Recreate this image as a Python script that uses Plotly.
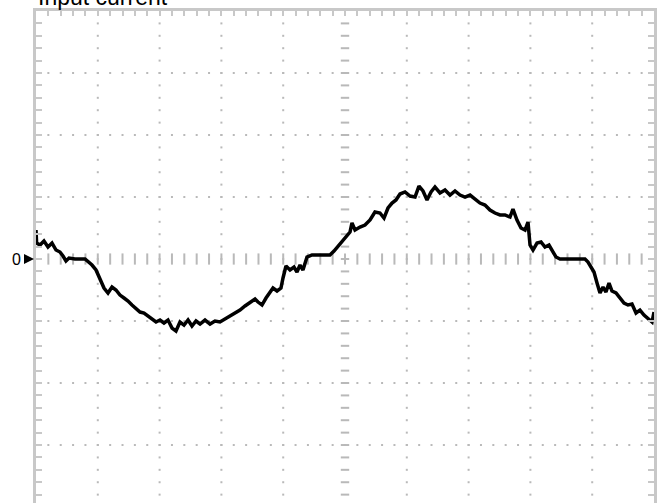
import plotly.graph_objects as go
import numpy as np

# Oscilloscope trace (units: divisions)
time_div = [0.000, 0.010, 0.065, 0.129, 0.194, 0.259, 0.324, 0.388, 0.437, 0.485, 0.534, 0.631, 0.793,
            0.858, 0.906, 0.971, 1.036, 1.100, 1.165, 1.230, 1.294, 1.359, 1.424, 1.489, 1.553, 1.618,
            1.683, 1.748, 1.812, 1.877, 1.942, 2.006, 2.071, 2.136, 2.201, 2.265, 2.330, 2.395, 2.460,
            2.524, 2.589, 2.654, 2.735, 2.816, 2.896, 2.977, 3.058, 3.139, 3.220, 3.301, 3.382, 3.463,
            3.544, 3.592, 3.657, 3.722, 3.786, 3.835, 3.900, 3.964, 3.997, 4.045, 4.110, 4.175, 4.223,
            4.272, 4.320, 4.385, 4.466, 4.757, 4.822, 4.887, 4.951, 5.016, 5.081, 5.113, 5.162, 5.243,
            5.324, 5.405, 5.485, 5.566, 5.631, 5.696, 5.761, 5.825, 5.890, 5.971, 6.052, 6.133, 6.197,
            6.262, 6.327, 6.392, 6.456, 6.537, 6.618, 6.699, 6.780, 6.861, 6.942, 7.023, 7.104, 7.184,
            7.265, 7.346, 7.427, 7.508, 7.589, 7.670, 7.718, 7.783, 7.848, 7.913, 7.961, 7.994, 8.042,
            8.107, 8.172, 8.236, 8.301, 8.366, 8.414, 8.479, 8.883, 8.932, 8.981, 9.029, 9.078, 9.126,
            9.175, 9.223, 9.272, 9.320, 9.385, 9.450, 9.515, 9.579, 9.644, 9.709, 9.773, 9.838, 9.903,
            9.968, 10.000]
current_div = [0.468, 0.258, 0.226, 0.290, 0.194, 0.258, 0.145, 0.113, 0.048, -0.032, 0.016, 0.000, 0.000,
               -0.048, -0.097, -0.177, -0.339, -0.468, -0.548, -0.452, -0.500, -0.581, -0.629, -0.677, -0.742, -0.790,
               -0.855, -0.871, -0.919, -0.952, -1.016, -0.984, -1.032, -0.984, -1.113, -1.161, -1.016, -1.065, -0.984,
               -1.081, -1.000, -1.048, -0.984, -1.048, -1.000, -1.016, -0.968, -0.935, -0.871, -0.823, -0.758, -0.694,
               -0.645, -0.694, -0.742, -0.629, -0.532, -0.468, -0.516, -0.468, -0.306, -0.113, -0.177, -0.129, -0.210,
               -0.097, -0.177, 0.032, 0.065, 0.065, 0.129, 0.210, 0.274, 0.355, 0.435, 0.581, 0.468, 0.516,
               0.548, 0.629, 0.758, 0.742, 0.661, 0.823, 0.903, 0.952, 1.048, 1.081, 1.016, 1.000, 1.177,
               1.097, 0.952, 1.081, 1.161, 1.065, 1.113, 1.032, 1.097, 1.032, 1.000, 1.032, 0.968, 0.903,
               0.871, 0.790, 0.742, 0.710, 0.710, 0.677, 0.806, 0.629, 0.500, 0.468, 0.597, 0.226, 0.145,
               0.258, 0.274, 0.194, 0.226, 0.097, 0.032, 0.000, 0.000, -0.048, -0.129, -0.210, -0.387, -0.548,
               -0.452, -0.532, -0.387, -0.516, -0.548, -0.629, -0.710, -0.742, -0.726, -0.871, -0.823, -0.903, -0.968,
               -1.016, -0.855]

title_text = "Input current"
zero_label = "0"

X_DIVS = 10
Y_TOP = 4
Y_BOTTOM = -3.935
GRID_COLOR = "#b9b9b9"
BORDER_COLOR = "#c8c8c8"

fig = go.Figure()

# dotted graticule (dots every 1/5 division)
gx, gy = [], []
for xv in range(1, X_DIVS):
    if xv == 5:
        continue
    for k in range(-19, 20):
        gx.append(xv)
        gy.append(k * 0.2)
for yv in range(-3, 4):
    if yv == 0:
        continue
    for k in range(1, 50):
        gx.append(k * 0.2)
        gy.append(yv)
fig.add_trace(go.Scatter(x=gx, y=gy, mode="markers",
                         marker=dict(symbol="square", size=2, color=GRID_COLOR, line=dict(width=0)),
                         hoverinfo="skip", showlegend=False))

# center cross tick marks
cx = [k * 0.2 for k in range(1, 50)]
fig.add_trace(go.Scatter(x=cx, y=[0] * len(cx), mode="markers",
                         marker=dict(symbol="line-ns", size=8, color=GRID_COLOR,
                                     line=dict(width=2, color=GRID_COLOR)),
                         hoverinfo="skip", showlegend=False))
cy = [k * 0.2 for k in range(-19, 20)]
fig.add_trace(go.Scatter(x=[5] * len(cy), y=cy, mode="markers",
                         marker=dict(symbol="line-ew", size=6, color=GRID_COLOR,
                                     line=dict(width=2, color=GRID_COLOR)),
                         hoverinfo="skip", showlegend=False))

# the waveform
fig.add_trace(go.Scatter(x=time_div, y=current_div, mode="lines",
                         line=dict(color="black", width=3.5),
                         hoverinfo="skip", showlegend=False))

fig.add_annotation(text=zero_label, xref="paper", x=0, xshift=-26, yref="y", y=0,
                   showarrow=False, font=dict(family="Liberation Sans", size=16, color="black"))
# zero-level pointer arrow
fig.add_annotation(text="", xref="paper", x=0, xshift=-2, yref="y", y=0,
                   showarrow=True, ax=-9, ay=0, arrowhead=2, arrowsize=1, arrowwidth=2,
                   arrowcolor="black")
fig.add_annotation(text=title_text, xref="paper", x=0, xanchor="left", yref="paper", y=1,
                   yanchor="bottom", yshift=-1, showarrow=False,
                   font=dict(family="Liberation Sans", size=23, color="black"))

fig.update_layout(
    width=671, height=503,
    margin=dict(l=36, r=17, t=11, b=0, pad=0, autoexpand=False),
    paper_bgcolor="white", plot_bgcolor="white",
    showlegend=False,
    xaxis=dict(range=[0, X_DIVS], side="top", showgrid=False, zeroline=False,
               showline=True, linecolor=BORDER_COLOR, linewidth=3,
               ticks="inside", tick0=0, dtick=0.2, ticklen=5, tickwidth=2, tickcolor=BORDER_COLOR,
               showticklabels=False, fixedrange=True, automargin=False),
    yaxis=dict(range=[Y_BOTTOM, Y_TOP], showgrid=False, zeroline=False,
               showline=True, mirror="ticks", linecolor=BORDER_COLOR, linewidth=3,
               ticks="inside", tick0=0, dtick=0.2, ticklen=6, tickwidth=2, tickcolor=BORDER_COLOR,
               showticklabels=False, fixedrange=True, automargin=False),
)

fig.write_html("out.html", config={"displayModeBar": False},
               post_script="document.body.style.margin='0';document.body.style.overflow='hidden';")
